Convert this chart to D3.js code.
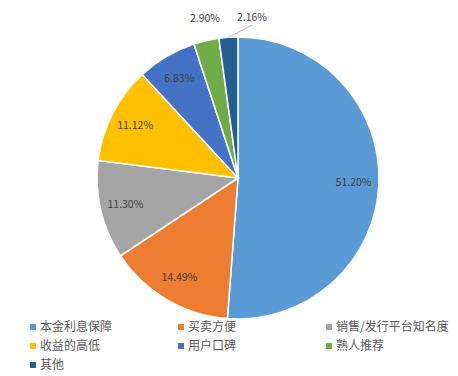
<!DOCTYPE html>
<html>
<head>
<meta charset="utf-8">
<script src="https://cdn.jsdelivr.net/npm/d3@7"></script>
<style>
  body { margin: 0; background: #fff; }
</style>
</head>
<body>
<div id="chart"></div>
<script>
const width = 458;
const height = 376;

const categories = ["本金利息保障", "买卖方便", "销售/发行平台知名度", "收益的高低", "用户口碑", "熟人推荐", "其他"];
const values = [51.20, 14.49, 11.30, 11.12, 6.83, 2.90, 2.16];
const colors = ["#5B9BD5", "#ED7D31", "#A5A5A5", "#FFC000", "#4472C4", "#70AD47", "#255E91"];

const cx = 238, cy = 178, r = 141;
const font = "'Microsoft YaHei', 'Noto Sans CJK SC', sans-serif";

const svg = d3.select("#chart").append("svg")
    .attr("width", width)
    .attr("height", height);

const data = categories.map((c, i) => ({ name: c, value: values[i], color: colors[i] }));

const pie = d3.pie().sort(null).value(d => d.value);
const arcs = pie(data);
const arc = d3.arc().innerRadius(0).outerRadius(r);
const labelArc = d3.arc().innerRadius(r * 0.82).outerRadius(r * 0.82);

const g = svg.append("g").attr("transform", `translate(${cx},${cy})`);

g.selectAll("path")
  .data(arcs)
  .join("path")
    .attr("d", arc)
    .attr("fill", d => d.data.color)
    .attr("stroke", "#fff")
    .attr("stroke-width", 1.5);

// labels: inside for big slices, outside for the two small ones
const outside = { 5: [-33, -160], 6: [14, -161] };

g.selectAll("text.lbl")
  .data(arcs)
  .join("text")
    .attr("class", "lbl")
    .attr("text-anchor", "middle")
    .attr("dy", "0.35em")
    .attr("transform", (d, i) => {
      const p = outside[i] || labelArc.centroid(d);
      return `translate(${p[0]},${p[1]})`;
    })
    .style("font", `10.5px ${font}`)
    .style("fill", "#404040")
    .text(d => d.data.value.toFixed(2) + "%");

// leader line for the last slice
const last = arcs[6];
const mid = (last.startAngle + last.endAngle) / 2;
g.append("polyline")
  .attr("points", [[Math.sin(mid) * r, -Math.cos(mid) * r], [14, -153]].map(p => p.join(",")).join(" "))
  .attr("fill", "none")
  .attr("stroke", "#a6a6a6")
  .attr("stroke-width", 0.8);

// legend
const legend = svg.append("g");
const cols = [30, 178, 326];
const rows = [327, 346, 365];
const item = legend.selectAll("g")
  .data(data)
  .join("g")
    .attr("transform", (d, i) => `translate(${cols[i % 3]},${rows[Math.floor(i / 3)]})`);

item.append("rect")
  .attr("x", 0).attr("y", -3)
  .attr("width", 6).attr("height", 6)
  .attr("fill", d => d.color);

item.append("text")
  .attr("x", 10)
  .attr("dy", "0.35em")
  .style("font", `12px ${font}`)
  .style("fill", "#595959")
  .text(d => d.name);
</script>
</body>
</html>
